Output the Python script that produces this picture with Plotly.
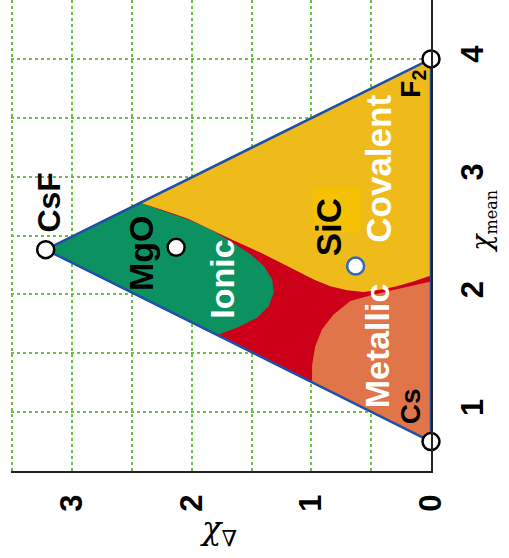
import plotly.graph_objects as go

# van Arkel-Ketelaar bonding triangle, drawn turned on its side:
# horizontal axis = electronegativity difference (chi_delta), reversed,
# vertical axis = mean electronegativity (chi_mean) on the right.

# triangle vertices (chi_delta, chi_mean)
vertex_names = ["Cs", "CsF", "F2"]
vertex_delta = [0.0, 3.22, 0.0]
vertex_mean = [0.75, 2.38, 4.0]

# compounds marked inside the triangle
compound_names = ["MgO", "SiC"]
compound_delta = [2.13, 0.63]
compound_mean = [2.40, 2.24]

# ionic / polar boundary (from upper edge to lower edge)
ionic_delta = [2.425, 2.23, 2.03, 1.842, 1.675, 1.508, 1.397, 1.327, 1.314, 1.355, 1.453, 1.619, 1.786]
ionic_mean = [2.777, 2.706, 2.636, 2.551, 2.452, 2.339, 2.240, 2.127, 2.014, 1.901, 1.802, 1.718, 1.654]

# covalent / polar boundary (from upper edge to the chi_delta = 0 side)
cov_delta = [2.425, 2.23, 2.03, 1.675, 1.425, 1.202, 0.98, 0.842, 0.70, 0.564, 0.425, 0.286, 0.148, 0.0]
cov_mean = [2.777, 2.712, 2.642, 2.470, 2.355, 2.240, 2.127, 2.07, 2.036, 2.02, 2.04, 2.07, 2.11, 2.16]

# metallic / polar boundary (from lower edge to the chi_delta = 0 side)
met_delta = [0.994, 0.994, 0.967, 0.91, 0.814, 0.675, 0.508, 0.342, 0.175, 0.0]
met_mean = [1.253, 1.393, 1.562, 1.703, 1.83, 1.943, 1.99, 2.03, 2.07, 2.11]

x_ticks = [0, 0.5, 1, 1.5, 2, 2.5, 3, 3.5]
x_ticktext = ["0", "", "1", "", "2", "", "3", ""]
y_ticks = [0.5, 1, 1.5, 2, 2.5, 3, 3.5, 4]
y_ticktext = ["", "1", "", "2", "", "3", "", "4"]

RED = "#cc0119"
GREEN = "#0c9160"
YELLOW = "#efbb1a"
ORANGE = "#e0754a"
EDGE = "#1f4fa6"
GRID = "#6cbf4a"
FONT = "Liberation Sans, Arial, sans-serif"

fig = go.Figure()

# whole triangle in the "polar" colour
fig.add_trace(go.Scatter(
    x=vertex_delta + [vertex_delta[0]], y=vertex_mean + [vertex_mean[0]],
    mode="lines", fill="toself", fillcolor=RED, line=dict(width=0),
    hoverinfo="skip", showlegend=False))

# ionic corner (CsF vertex)
fig.add_trace(go.Scatter(
    x=[vertex_delta[1]] + ionic_delta + [vertex_delta[1]],
    y=[vertex_mean[1]] + ionic_mean + [vertex_mean[1]],
    mode="lines", fill="toself", fillcolor=GREEN, line=dict(width=0),
    hoverinfo="skip", showlegend=False))

# covalent corner (F2 vertex)
fig.add_trace(go.Scatter(
    x=[vertex_delta[2]] + cov_delta + [vertex_delta[2]],
    y=[vertex_mean[2]] + cov_mean + [vertex_mean[2]],
    mode="lines", fill="toself", fillcolor=YELLOW, line=dict(width=0),
    hoverinfo="skip", showlegend=False))

# metallic corner (Cs vertex)
fig.add_trace(go.Scatter(
    x=[vertex_delta[0]] + met_delta + [vertex_delta[0]],
    y=[vertex_mean[0]] + met_mean + [vertex_mean[0]],
    mode="lines", fill="toself", fillcolor=ORANGE, line=dict(width=0),
    hoverinfo="skip", showlegend=False))

# highlight patch behind the SiC label
fig.add_shape(type="rect", x0=0.99, x1=0.59, y0=2.53, y1=2.91,
              fillcolor="#f5c102", line=dict(width=0), layer="above")

# triangle outline
fig.add_trace(go.Scatter(
    x=vertex_delta + [vertex_delta[0]], y=vertex_mean + [vertex_mean[0]],
    mode="lines", line=dict(color=EDGE, width=2.5),
    hoverinfo="skip", showlegend=False))

# vertex markers
fig.add_trace(go.Scatter(
    x=vertex_delta, y=vertex_mean, mode="markers",
    marker=dict(size=17, color="white", line=dict(color="black", width=2.5)),
    cliponaxis=False, hoverinfo="skip", showlegend=False))

# compound markers
fig.add_trace(go.Scatter(
    x=compound_delta, y=compound_mean, mode="markers",
    marker=dict(size=17, color="white",
                line=dict(color=["black", "#2d6ab8"], width=2.5)),
    hoverinfo="skip", showlegend=False))

labels = [
    ("CsF", 3.20, 2.78, 32, "black"),
    ("MgO", 2.425, 2.35, 34, "black"),
    ("Ionic", 1.75, 2.13, 34, "white"),
    ("SiC", 0.86, 2.57, 35, "black"),
    ("Covalent", 0.44, 3.07, 35, "white"),
    ("Metallic", 0.45, 1.56, 34, "white"),
    ("Cs", 0.175, 1.05, 28, "black"),
    ("F<sub>2</sub>", 0.15, 3.79, 28, "black"),
]
for text, xd, ym, size, color in labels:
    fig.add_annotation(x=xd, y=ym, xref="x", yref="y", text="<b>%s</b>" % text,
                       textangle=-90, showarrow=False,
                       xanchor="center", yanchor="middle",
                       font=dict(family=FONT, size=size, color=color))

# axis titles
fig.add_annotation(x=1.125, y=2.62, xref="paper", yref="y",
                   text="<i>χ</i><sub><span style='font-size:16px'>mean</span></sub>",
                   textangle=-90, showarrow=False, xanchor="center", yanchor="middle",
                   font=dict(family="DejaVu Serif, serif", size=27, color="black"))
fig.add_annotation(x=1.775, y=-0.125, xref="x", yref="paper",
                   text="<i>χ</i><sub>∇</sub>",
                   showarrow=False, xanchor="center", yanchor="middle",
                   font=dict(family="DejaVu Serif, serif", size=32, color="black"))

axis_common = dict(
    showgrid=True, gridcolor=GRID, griddash="dot", gridwidth=1.5,
    showline=True, linecolor="#222222", linewidth=2, zeroline=False,
    ticks="", tickangle=-90,
    tickfont=dict(family=FONT, size=31, color="black", weight="bold"),
)

fig.update_layout(
    width=509, height=558,
    margin=dict(l=11, r=78, t=0, b=87),
    paper_bgcolor="white", plot_bgcolor="white",
    xaxis=dict(range=[3.51, 0], tickvals=x_ticks, ticktext=x_ticktext,
               ticklabelstandoff=9, **axis_common),
    yaxis=dict(range=[0.5, 4.5], side="right", tickvals=y_ticks, ticktext=y_ticktext,
               ticklabelstandoff=13, **axis_common),
)

fig.write_html("out.html")
